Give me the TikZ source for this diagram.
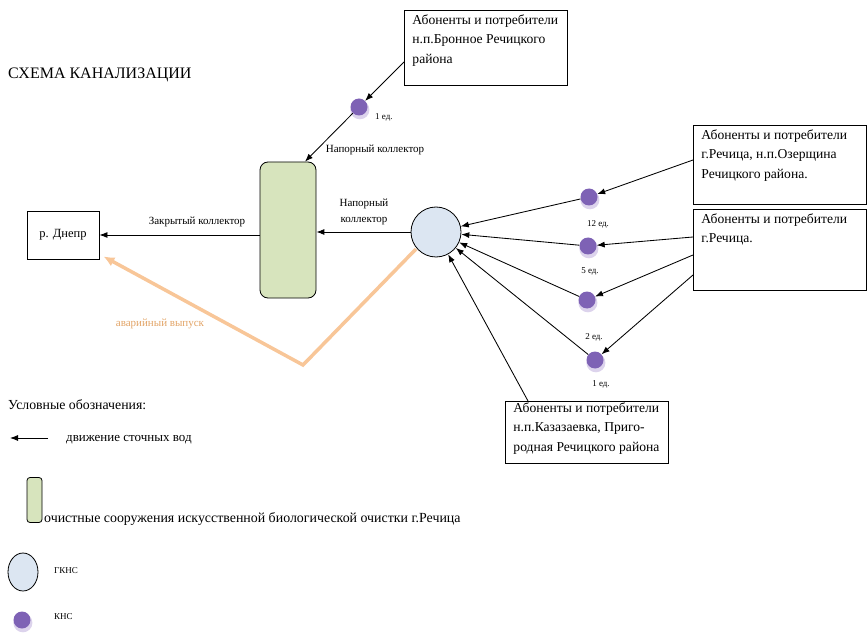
\documentclass[tikz,border=0pt]{standalone}
\usepackage{fontspec}
\setmainfont{Liberation Serif}
\newfontfamily\tnr{Liberation Serif}
\usetikzlibrary{arrows.meta,calc,shapes.geometric,shadows}
\definecolor{plantgreen}{HTML}{D7E4BD}
\definecolor{gknsblue}{HTML}{DCE6F2}
\definecolor{knspurple}{HTML}{7E62B5}
\definecolor{knsring}{HTML}{DCD3EC}
\definecolor{spillorange}{HTML}{F8C698}
\definecolor{spilltext}{HTML}{E2A467}
\newcommand{\infotext}[3]{\parbox[c][#2][t]{#1}{#3}}
\begin{document}
\begin{tikzpicture}[x=1pt,y=-1pt,
  every node/.style={font=\tnr},
  flow/.style={-{Latex[length=8pt,width=6pt]}, line width=0.85pt},
  infobox/.style={draw, line width=0.9pt, anchor=north west, inner sep=0pt,
    font=\tnr\fontsize{13.6}{19.5}\selectfont},
  small/.style={font=\tnr\fontsize{11}{12}\selectfont, inner sep=1pt},
  tiny/.style={font=\tnr\fontsize{9}{10}\selectfont, inner sep=1pt},
  kns/.style={circle, fill=knspurple, minimum size=17pt, inner sep=0pt,
    drop shadow={shadow xshift=0.8pt, shadow yshift=-2.5pt, shadow scale=1.12, fill=knsring, opacity=1}},
  gknsst/.style={circle, draw, line width=0.8pt, fill=gknsblue, minimum size=50pt, inner sep=0pt},
  plantst/.style={rectangle, rounded corners=8pt, draw, line width=0.8pt, fill=plantgreen},
  legtext/.style={anchor=west, inner sep=0pt, font=\tnr\fontsize{13.8}{15}\selectfont}
]
\useasboundingbox (0,0) rectangle (867,636);

% title
\node[anchor=west, inner sep=0pt, font=\tnr\fontsize{16}{18}\selectfont] (title) at (8,75) {СХЕМА КАНАЛИЗАЦИИ};

% main objects
\node[draw, line width=0.9pt, minimum width=72pt, minimum height=48pt, font=\tnr\fontsize{12.5}{14}\selectfont] (river) at (63,235) {р. Днепр};
\node[plantst, minimum width=56pt, minimum height=136pt] (plant) at (288,230) {};
\node[gknsst] (gkns) at (436,232) {};

\node[infobox] (bronnoe) at (404,10) {\hspace{8pt}\infotext{155pt}{75pt}{\vspace{4pt}Абоненты и потребители\\ н.п.Бронное Речицкого\\ района}};
\node[infobox] (boxA) at (693,125) {\hspace{8pt}\infotext{165pt}{79pt}{\vspace{4pt}Абоненты и потребители\\ г.Речица, н.п.Озерщина\\ Речицкого района.}};
\node[infobox] (boxB) at (693,209) {\hspace{8pt}\infotext{165pt}{81pt}{\vspace{4pt}Абоненты и потребители\\ г.Речица.}};
\node[infobox] (boxK) at (505,401) {\hspace{8pt}\infotext{155pt}{62pt}{\vspace{1pt}Абоненты и потребители\\ н.п.Казазаевка, Приго-\\ родная Речицкого района}};

% KNS
\node[kns] (ktop) at (359,107) {};
\node[kns] (k12) at (589,197) {};
\node[kns] (k5) at (588,246) {};
\node[kns] (k2) at (587,300) {};
\node[kns] (k1) at (595,360) {};

\node[tiny, anchor=west] (lktop) at (374,117) {1 ед.};
\node[tiny] (lk12) at (598,224) {12 ед.};
\node[tiny] (lk5) at (590,271) {5 ед.};
\node[tiny] (lk2) at (594,337) {2 ед.};
\node[tiny] (lk1) at (601,384) {1 ед.};

% labels
\node[small] (lzak) at (197,222) {Закрытый коллектор};
\node[small] (lnap1) at (375,150) {Напорный коллектор};
\node[small, align=center, font=\tnr\fontsize{11}{16}\selectfont] (lnap2) at (364,212) {Напорный\\ коллектор};
\node[small, text=spilltext] (lav) at (160,324) {аварийный выпуск};

% connectors
\draw[flow] (plant.west |- river.east) -- (river.east);
\draw[flow] (gkns.west) -- (gkns.west -| plant.east);
\coordinate (vbend) at (303,365);
\draw[line width=3.5pt, spillorange, -{Latex[length=11pt,width=10pt]}]
  ($(gkns.center)+(-20,17)$) -- (vbend) -- ($(river.south east)+(4,-3)$);

\draw[flow] ($(bronnoe.north west)+(0,52)$) -- (ktop);
\draw[flow] (ktop) -- ($(plant.north)+(17,0)$);

\draw[flow] ($(boxA.north west)+(0,35)$) -- (k12);
\draw[flow] ($(boxB.north west)+(0,28)$) -- (k5);
\draw[flow] ($(boxB.north west)+(0,46)$) -- (k2);
\draw[flow] ($(boxB.north west)+(0,66)$) -- (k1);

\draw[flow] (k12) -- (gkns);
\draw[flow] (k5) -- (gkns);
\draw[flow] (k2) -- (gkns);
\draw[flow] (k1) -- (gkns);
\draw[flow] ($(boxK.north west)+(23,0)$) -- (gkns);

% legend
\node[legtext] (leghead) at (8,405) {Условные обозначения:};
\coordinate (legArrowR) at (48,438);
\coordinate (legArrowL) at (10,438);
\draw[flow] (legArrowR) -- (legArrowL);
\node[legtext, font=\tnr\fontsize{13}{14}\selectfont] (legflow) at (66,440) {движение сточных вод};
\node[plantst, rounded corners=3pt, minimum width=15pt, minimum height=45pt] (legplant) at (34.5,500) {};
\node[legtext, font=\tnr\fontsize{13.9}{15}\selectfont] (legplanttext) at (44,519) {очистные сооружения искусственной биологической очистки г.Речица};
\node[ellipse, draw, line width=0.8pt, fill=gknsblue, minimum width=30pt, minimum height=38pt, inner sep=0pt] (leggkns) at (23,572) {};
\node[legtext, font=\tnr\fontsize{9}{10}\selectfont] (leggknstext) at (54,571) {ГКНС};
\node[kns] (legkns) at (22,620) {};
\node[legtext, font=\tnr\fontsize{9}{10}\selectfont] (legknstext) at (54,617) {КНС};
\end{tikzpicture}
\end{document}
